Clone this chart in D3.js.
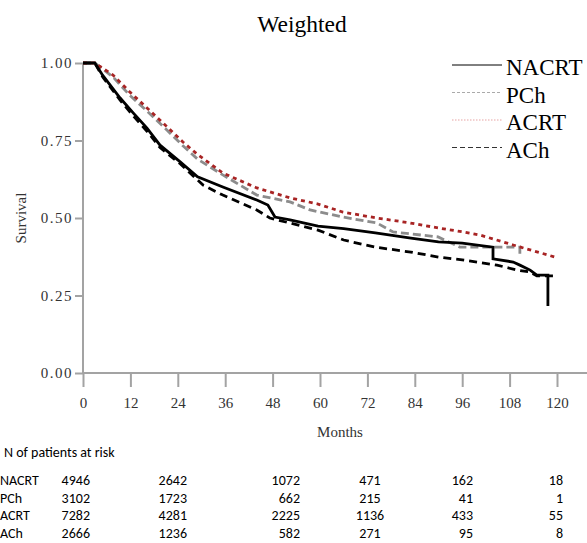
<!DOCTYPE html>
<html>
<head>
<meta charset="utf-8">
<script src="https://cdn.jsdelivr.net/npm/d3@7"></script>
<style>
  body { margin: 0; background: #fff; }
  svg { display: block; }
</style>
</head>
<body>
<div id="chart-area"></div>
<script>
// survival curves (months, survival)
const nacrtMonths = [0, 3, 5, 9.4, 12.7, 16.2, 19.5, 24.6, 29, 35.4, 44, 46.8, 48.6, 52.4, 59.5, 66, 74, 83, 90, 96, 103.8, 103.8, 108.9, 110.6, 113.2, 114.9, 117.7, 117.7]
const nacrtSurv = [1, 1, 0.96, 0.887, 0.839, 0.79, 0.735, 0.681, 0.633, 0.6, 0.558, 0.542, 0.503, 0.494, 0.474, 0.466, 0.452, 0.435, 0.423, 0.419, 0.406, 0.368, 0.358, 0.348, 0.332, 0.316, 0.316, 0.216]

const pchMonths = [0, 3, 7.6, 11.9, 16.2, 21.3, 25.3, 29, 35.4, 44, 52.4, 57.5, 65.8, 74.4, 78.5, 89.9, 95.4, 110.6, 110.6]
const pchSurv = [1, 1, 0.955, 0.895, 0.845, 0.783, 0.733, 0.69, 0.639, 0.574, 0.552, 0.526, 0.503, 0.484, 0.455, 0.439, 0.406, 0.406, 0.374]

const acrtMonths = [0, 3, 7.6, 11.9, 16.2, 21.3, 25.3, 29, 35.4, 44, 52.4, 59.5, 65.8, 74.4, 82.8, 89.9, 96.2, 100.5, 108.9, 113.2, 119.5]
const acrtSurv = [1, 1, 0.961, 0.906, 0.855, 0.794, 0.745, 0.705, 0.645, 0.597, 0.565, 0.545, 0.519, 0.5, 0.484, 0.468, 0.455, 0.445, 0.413, 0.397, 0.374]

const achMonths = [0, 3, 5, 9.4, 12.7, 16.2, 19.5, 24.6, 30.4, 35.4, 44, 47.3, 52, 59.5, 66, 74, 83, 90, 96, 104.8, 109.9, 113.2, 114.9, 120]
const achSurv = [1, 1, 0.955, 0.88, 0.83, 0.78, 0.727, 0.675, 0.606, 0.574, 0.526, 0.5, 0.485, 0.461, 0.429, 0.406, 0.39, 0.374, 0.365, 0.348, 0.332, 0.326, 0.313, 0.313]

const groups = ["NACRT", "PCh", "ACRT", "ACh"]
const xTicks = [0, 12, 24, 36, 48, 60, 72, 84, 96, 108, 120]
const yTicks = [0, 0.25, 0.5, 0.75, 1]

// numbers at risk
const riskNACRT = [4946, 2642, 1072, 471, 162, 18]
const riskPCh = [3102, 1723, 662, 215, 41, 1]
const riskACRT = [7282, 4281, 2225, 1136, 433, 55]
const riskACh = [2666, 1236, 582, 271, 95, 8]

const W = 587, H = 543
const SERIF = "'Liberation Serif', 'Times New Roman', serif"
const SANS = "Carlito, Calibri, 'Liberation Sans', Arial, sans-serif"

const svg = d3.select("#chart-area").append("svg")
  .attr("width", W)
  .attr("height", H)

const x = d3.scaleLinear().domain([0, 120]).range([83, 557])
const y = d3.scaleLinear().domain([0, 1]).range([373, 63])

// title
svg.append("text")
  .attr("x", 302).attr("y", 32)
  .attr("text-anchor", "middle")
  .attr("font-family", SERIF)
  .attr("font-size", "23.5px")
  .text("Weighted")

// axes
const axisColor = "#a3a3a3"
const yAxis = svg.append("g")
  .attr("transform", `translate(${x(0)},0)`)
  .call(d3.axisLeft(y).tickValues(yTicks).tickFormat(d3.format(".2f")).tickSize(8).tickPadding(2))
const xAxis = svg.append("g")
  .attr("transform", `translate(0,${y(0)})`)
  .call(d3.axisBottom(x).tickValues(xTicks).tickSize(14).tickPadding(10))

;[xAxis, yAxis].forEach(a => {
  a.select(".domain").remove()
  a.selectAll(".tick line").attr("stroke", axisColor).attr("stroke-width", 2)
  a.selectAll(".tick text")
    .attr("font-family", SERIF)
    .attr("font-size", "15px")
    .attr("fill", "#333")
})
yAxis.selectAll(".tick text").attr("letter-spacing", "1.5px")

svg.append("line")
  .attr("x1", x(0)).attr("x2", W)
  .attr("y1", y(0)).attr("y2", y(0))
  .attr("stroke", axisColor).attr("stroke-width", 2)
svg.append("line")
  .attr("x1", x(0)).attr("x2", x(0))
  .attr("y1", y(1)).attr("y2", y(0) + 1)
  .attr("stroke", axisColor).attr("stroke-width", 2)

// axis labels
svg.append("text")
  .attr("x", 340).attr("y", 437)
  .attr("text-anchor", "middle")
  .attr("font-family", SERIF)
  .attr("font-size", "15px")
  .attr("fill", "#333")
  .text("Months")
svg.append("text")
  .attr("transform", "translate(26,218) rotate(-90)")
  .attr("text-anchor", "middle")
  .attr("font-family", SERIF)
  .attr("font-size", "15px")
  .attr("fill", "#333")
  .text("Survival")

// curves
const series = [
  { name: "NACRT", months: nacrtMonths, surv: nacrtSurv, color: "#000", dash: null, legColor: "#000", legDash: null },
  { name: "PCh", months: pchMonths, surv: pchSurv, color: "#8c8c8c", dash: "8,4", legColor: "#aaa", legDash: "3,2" },
  { name: "ACRT", months: acrtMonths, surv: acrtSurv, color: "#a82424", dash: "4,4", legColor: "#e6a3a3", legDash: "1.5,1.5" },
  { name: "ACh", months: achMonths, surv: achSurv, color: "#000", dash: "8,5", legColor: "#333", legDash: "5,3" }
]

const line = d3.line()
  .x(d => x(d[0]))
  .y(d => y(d[1]))

// draw in back-to-front order
;[3, 1, 2, 0].forEach(i => {
  const s = series[i]
  svg.append("path")
    .attr("d", line(d3.zip(s.months, s.surv)))
    .attr("fill", "none")
    .attr("stroke", s.color)
    .attr("stroke-width", 2.8)
    .attr("stroke-dasharray", s.dash)
})

// legend
const legend = svg.append("g")
series.forEach((s, i) => {
  const ly = 65 + i * 27.5
  legend.append("line")
    .attr("x1", 452).attr("x2", 502)
    .attr("y1", ly).attr("y2", ly)
    .attr("stroke", s.legColor)
    .attr("stroke-width", 1)
    .attr("stroke-dasharray", s.legDash)
  legend.append("text")
    .attr("x", 506).attr("y", ly + 10)
    .attr("font-family", SERIF)
    .attr("font-size", "23px")
    .text(s.name)
})

// risk table
const TFS = "14px"
svg.append("text")
  .attr("x", 4).attr("y", 457)
  .attr("font-family", SANS)
  .attr("font-size", TFS)
  .text("N of patients at risk")

const riskRows = [riskNACRT, riskPCh, riskACRT, riskACh]
const colX = [90, 187, 300, 370, 473, 563]
const colAnchor = ["end", "end", "end", "middle", "end", "end"]
riskRows.forEach((row, i) => {
  const ry = 485 + i * 17.5
  svg.append("text")
    .attr("x", 0).attr("y", ry)
    .attr("font-family", SANS)
    .attr("font-size", TFS)
    .text(groups[i])
  row.forEach((v, j) => {
    svg.append("text")
      .attr("x", colX[j]).attr("y", ry)
      .attr("text-anchor", colAnchor[j])
      .attr("font-family", SANS)
      .attr("font-size", TFS)
      .text(v)
  })
})
</script>
</body>
</html>
